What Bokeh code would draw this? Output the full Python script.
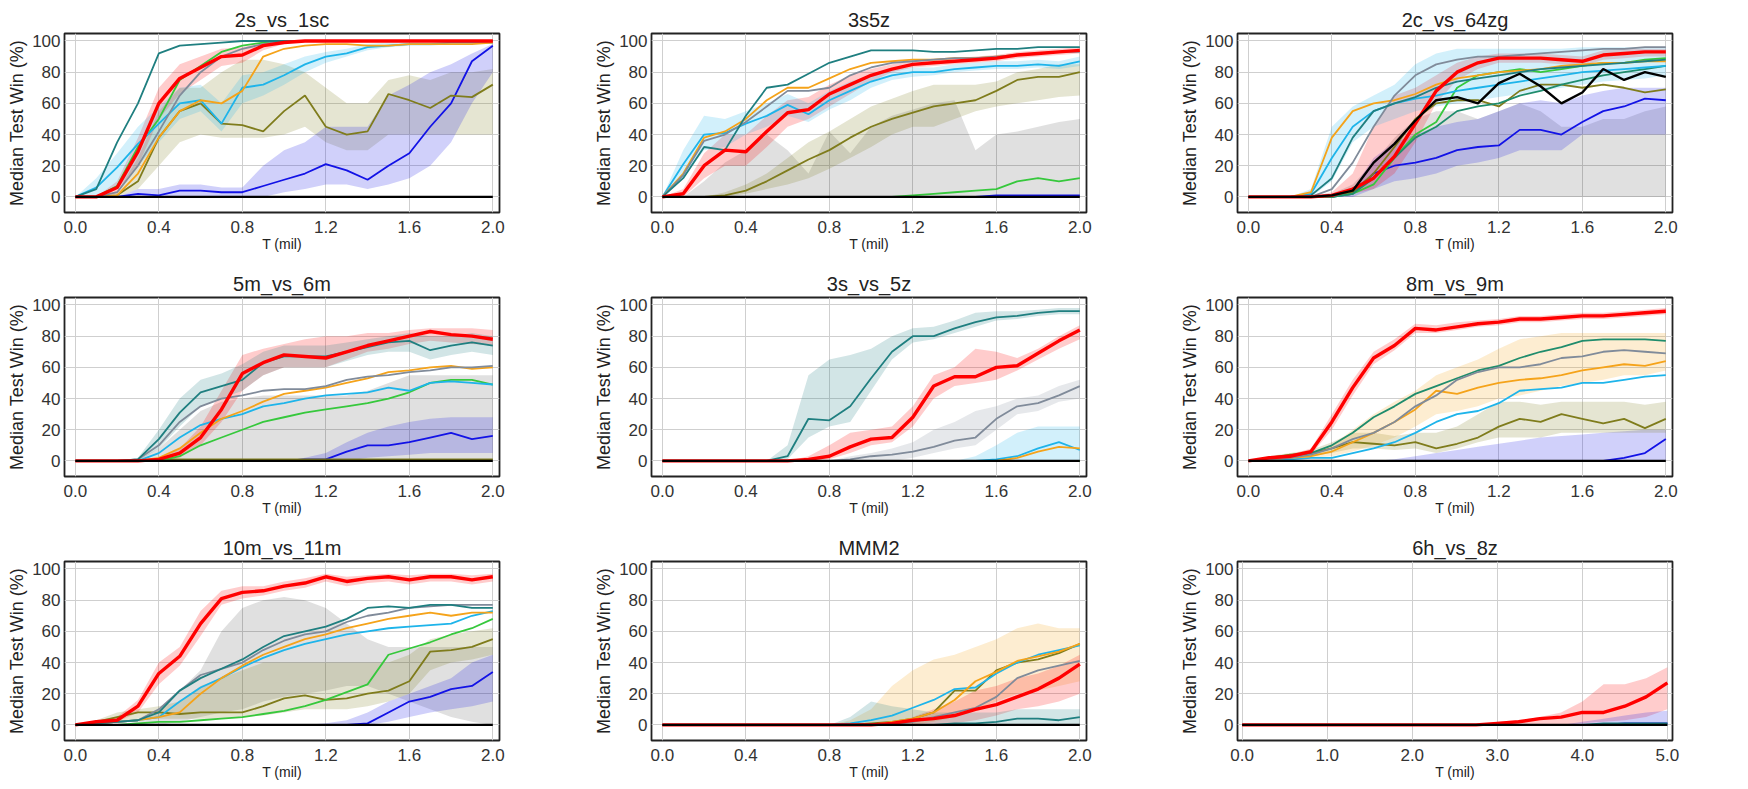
from bokeh.plotting import figure
from bokeh.layouts import column, row
from bokeh.models import FixedTicker, Range1d
from bokeh.embed import file_html
from bokeh.resources import INLINE

# ---------------- data ----------------
X2 = [0.0, 0.1, 0.2, 0.3, 0.4, 0.5, 0.6, 0.7, 0.8, 0.9, 1.0,
      1.1, 1.2, 1.3, 1.4, 1.5, 1.6, 1.7, 1.8, 1.9, 2.0]
X5 = [0.0, 0.25, 0.5, 0.75, 1.0, 1.25, 1.5, 1.75, 2.0, 2.25, 2.5,
      2.75, 3.0, 3.25, 3.5, 3.75, 4.0, 4.25, 4.5, 4.75, 5.0]
ZERO = [0, 0, 0, 0, 0, 0, 0, 0, 0, 0, 0, 0, 0, 0, 0, 0, 0, 0, 0, 0, 0]

X_TICKS2 = [0.0, 0.4, 0.8, 1.2, 1.6, 2.0]
X_LABELS2 = ["0.0", "0.4", "0.8", "1.2", "1.6", "2.0"]
X_TICKS5 = [0, 1, 2, 3, 4, 5]
X_LABELS5 = ["0.0", "1.0", "2.0", "3.0", "4.0", "5.0"]
Y_TICKS = [0, 20, 40, 60, 80, 100]
Y_LABELS = ["0", "20", "40", "60", "80", "100"]
TITLES = ["2s_vs_1sc", "3s5z", "2c_vs_64zg", "5m_vs_6m", "3s_vs_5z",
          "8m_vs_9m", "10m_vs_11m", "MMM2", "6h_vs_8z"]

# 2s_vs_1sc
P1_RED = [0, 0, 6, 29, 60, 76, 83, 90, 91, 97, 99, 100, 100, 100, 100, 100, 100, 100, 100, 100, 100]
P1_TEAL = [0, 5, 35, 60, 92, 97, 98, 99, 100, 100, 100, 100, 100, 100, 100, 100, 100, 100, 100, 100, 100]
P1_SKY = [0, 6, 19, 34, 47, 60, 62, 47, 70, 72, 78, 85, 90, 92, 96, 97, 98, 98, 99, 99, 99]
P1_GREEN = [0, 0, 7, 32, 50, 75, 84, 93, 97, 99, 100, 100, 100, 100, 100, 100, 100, 100, 100, 100, 100]
P1_GRAY = [0, 0, 3, 20, 42, 65, 80, 90, 95, 98, 100, 100, 100, 100, 100, 100, 100, 100, 100, 100, 100]
P1_ORANGE = [0, 0, 1, 15, 38, 55, 62, 60, 68, 90, 95, 97, 98, 98, 97, 97, 98, 98, 98, 98, 99]
P1_OLIVE = [0, 0, 1, 10, 38, 55, 60, 47, 46, 42, 55, 65, 45, 40, 42, 66, 62, 57, 65, 64, 72]
P1_BLUE = [0, 0, 0, 2, 1, 4, 4, 3, 3, 7, 11, 15, 21, 17, 11, 20, 28, 45, 60, 87, 97]
P1_OLIVE_LO = [0, 0, 0, 5, 20, 35, 40, 38, 38, 38, 40, 45, 35, 30, 30, 40, 40, 40, 40, 40, 40]
P1_OLIVE_HI = [0, 0, 3, 25, 55, 70, 70, 80, 88, 88, 85, 80, 70, 60, 60, 75, 78, 75, 80, 80, 82]
P1_BLUE_LO = [0, 0, 0, 0, 0, 0, 0, 0, 0, 0, 3, 5, 8, 8, 5, 8, 12, 20, 35, 60, 80]
P1_BLUE_HI = [0, 0, 0, 5, 5, 8, 8, 6, 6, 20, 30, 35, 45, 45, 45, 65, 72, 80, 85, 92, 98]
P1_RED_LO = [0, 0, 2, 20, 50, 66, 75, 84, 86, 94, 98, 100, 100, 100, 100, 100, 100, 100, 100, 100, 100]
P1_RED_HI = [0, 0, 10, 38, 70, 85, 90, 95, 96, 99, 100, 100, 100, 100, 100, 100, 100, 100, 100, 100, 100]
P1_SKY_LO = [0, 0, 5, 20, 35, 50, 55, 42, 60, 65, 72, 80, 86, 90, 94, 96, 97, 97, 98, 98, 98]
P1_SKY_HI = [0, 12, 28, 45, 58, 70, 72, 60, 78, 80, 85, 90, 93, 95, 98, 99, 99, 99, 100, 100, 100]

# 3s5z
P2_RED = [0, 2, 20, 30, 29, 42, 54, 56, 66, 72, 78, 82, 85, 86, 87, 88, 89, 91, 92, 93, 94]
P2_TEAL = [0, 12, 32, 30, 52, 70, 72, 79, 86, 90, 94, 94, 94, 93, 93, 94, 95, 95, 96, 96, 96]
P2_SKY = [0, 21, 40, 41, 47, 52, 59, 53, 62, 68, 74, 78, 80, 80, 82, 83, 84, 84, 85, 84, 87]
P2_ORANGE = [0, 15, 38, 42, 50, 62, 70, 70, 76, 82, 86, 87, 88, 88, 89, 89, 90, 91, 92, 93, 94]
P2_GRAY = [0, 14, 36, 40, 48, 58, 68, 68, 70, 78, 83, 86, 87, 88, 89, 89, 90, 91, 92, 93, 93]
P2_OLIVE = [0, 0, 0, 1, 4, 10, 17, 24, 30, 38, 45, 50, 54, 58, 60, 62, 68, 75, 77, 77, 80]
P2_GREEN = [0, 0, 0, 0, 0, 0, 0, 0, 0, 0, 0, 0, 1, 2, 3, 4, 5, 10, 12, 10, 12]
P2_BLUE = [0, 0, 0, 0, 0, 0, 0, 0, 0, 0, 0, 0, 0, 0, 0, 0, 1, 1, 1, 1, 1]
P2_BLACK_HI = [0, 0, 10, 22, 30, 40, 30, 15, 42, 28, 45, 52, 56, 60, 62, 30, 40, 42, 45, 48, 50]
P2_OLIVE_LO = [0, 0, 0, 0, 2, 5, 8, 12, 18, 25, 32, 40, 45, 45, 50, 55, 58, 60, 62, 64, 65]
P2_OLIVE_HI = [0, 0, 0, 3, 8, 15, 25, 35, 42, 50, 58, 63, 68, 72, 72, 72, 74, 80, 82, 85, 85]
P2_RED_LO = [0, 0, 12, 20, 20, 32, 45, 50, 58, 66, 74, 80, 83, 84, 85, 86, 87, 89, 90, 91, 92]
P2_RED_HI = [0, 5, 28, 40, 40, 52, 62, 64, 72, 78, 82, 85, 87, 88, 89, 90, 91, 93, 94, 95, 96]
P2_SKY_LO = [0, 12, 30, 32, 40, 45, 52, 48, 56, 62, 70, 75, 77, 78, 80, 81, 82, 82, 83, 82, 84]
P2_SKY_HI = [0, 30, 52, 50, 55, 60, 66, 60, 68, 74, 78, 82, 83, 83, 85, 86, 87, 87, 88, 87, 90]

# 2c_vs_64zg
P3_ORANGE = [0, 0, 0, 3, 38, 55, 60, 62, 66, 72, 76, 78, 80, 81, 82, 84, 85, 86, 86, 87, 87]
P3_SKY = [0, 0, 0, 2, 25, 45, 55, 60, 63, 65, 68, 70, 72, 74, 76, 78, 80, 81, 82, 83, 84]
P3_TEAL = [0, 0, 0, 1, 12, 38, 55, 60, 64, 70, 74, 76, 78, 80, 82, 83, 84, 85, 86, 87, 88]
P3_GRAY = [0, 0, 0, 0, 5, 22, 45, 65, 78, 85, 88, 90, 90, 91, 92, 93, 94, 95, 95, 96, 96]
P3_RED = [0, 0, 0, 0, 1, 5, 12, 26, 47, 68, 80, 86, 89, 89, 89, 88, 87, 91, 92, 93, 93]
P3_BLACK = [0, 0, 0, 0, 1, 4, 22, 34, 49, 62, 64, 60, 73, 79, 71, 60, 67, 82, 75, 80, 77]
P3_GREEN = [0, 0, 0, 0, 0, 2, 8, 25, 40, 48, 70, 78, 80, 82, 80, 82, 84, 86, 86, 88, 89]
P3_SEA = [0, 0, 0, 0, 0, 2, 12, 25, 38, 45, 55, 58, 60, 65, 68, 72, 75, 78, 80, 82, 84]
P3_OLIVE = [0, 0, 0, 0, 0, 3, 15, 32, 50, 60, 62, 62, 58, 68, 72, 72, 70, 72, 70, 67, 69]
P3_BLUE = [0, 0, 0, 0, 0, 2, 15, 20, 22, 25, 30, 32, 33, 43, 43, 40, 48, 55, 58, 63, 62]
P3_BLACK_HI = [0, 0, 0, 0, 2, 8, 22, 38, 50, 55, 55, 50, 55, 60, 55, 45, 45, 50, 50, 55, 58]
P3_BLUE_LO = [0, 0, 0, 0, 0, 0, 5, 10, 12, 15, 20, 22, 25, 30, 30, 30, 40, 40, 40, 40, 40]
P3_BLUE_HI = [0, 0, 0, 0, 0, 5, 25, 35, 40, 45, 48, 50, 55, 60, 62, 60, 65, 68, 70, 70, 70]
P3_RED_LO = [0, 0, 0, 0, 0, 2, 5, 15, 35, 60, 75, 82, 86, 86, 86, 85, 84, 88, 89, 90, 90]
P3_RED_HI = [0, 0, 0, 0, 3, 15, 45, 65, 70, 78, 86, 90, 92, 92, 92, 91, 90, 94, 95, 95, 95]
P3_SKY_LO = [0, 0, 0, 0, 10, 35, 45, 50, 55, 58, 60, 62, 64, 66, 68, 70, 72, 74, 75, 76, 78]
P3_SKY_HI = [0, 0, 0, 5, 45, 58, 65, 72, 85, 92, 95, 95, 95, 95, 95, 95, 96, 96, 96, 96, 96]

# 5m_vs_6m
P4_RED = [0, 0, 0, 0, 1, 5, 15, 33, 56, 63, 68, 67, 66, 70, 74, 77, 80, 83, 81, 80, 78]
P4_TEAL = [0, 0, 0, 1, 14, 31, 44, 48, 52, 63, 67, 67, 67, 70, 73, 76, 77, 71, 74, 76, 74]
P4_GRAY = [0, 0, 0, 1, 10, 25, 35, 40, 42, 45, 46, 46, 48, 52, 54, 55, 57, 58, 60, 60, 61]
P4_ORANGE = [0, 0, 0, 0, 2, 8, 18, 27, 32, 38, 43, 45, 47, 50, 53, 57, 58, 60, 61, 59, 60]
P4_SKY = [0, 0, 0, 0, 5, 15, 23, 27, 30, 35, 37, 40, 42, 43, 44, 47, 45, 50, 51, 50, 49]
P4_GREEN = [0, 0, 0, 0, 0, 3, 10, 15, 20, 25, 28, 31, 33, 35, 37, 40, 44, 50, 52, 52, 49]
P4_BLUE = [0, 0, 0, 0, 0, 0, 0, 0, 0, 0, 0, 1, 1, 6, 10, 10, 12, 15, 18, 14, 16]
P4_OLIVE = [0, 0, 0, 0, 1, 1, 1, 1, 1, 1, 1, 1, 1, 1, 1, 1, 1, 1, 1, 1, 1]
P4_BLACK_HI = [0, 0, 0, 1, 8, 20, 32, 38, 40, 42, 42, 42, 42, 42, 45, 50, 55, 55, 55, 55, 55]
P4_BLUE_LO = [0, 0, 0, 0, 0, 0, 0, 0, 0, 0, 0, 0, 0, 0, 2, 3, 4, 5, 5, 5, 5]
P4_BLUE_HI = [0, 0, 0, 0, 0, 0, 0, 0, 0, 0, 0, 2, 5, 12, 18, 22, 25, 27, 28, 28, 28]
P4_RED_LO = [0, 0, 0, 0, 0, 2, 10, 25, 45, 55, 60, 60, 60, 65, 70, 72, 75, 77, 76, 75, 74]
P4_RED_HI = [0, 0, 0, 0, 2, 8, 22, 45, 68, 72, 75, 78, 80, 80, 82, 82, 84, 85, 85, 85, 84]
P4_TEAL_LO = [0, 0, 0, 0, 8, 22, 35, 40, 45, 55, 60, 60, 60, 64, 68, 70, 70, 65, 68, 70, 68]
P4_TEAL_HI = [0, 0, 0, 2, 20, 40, 52, 56, 62, 70, 74, 74, 74, 76, 78, 80, 82, 80, 80, 82, 80]

# 3s_vs_5z
P5_TEAL = [0, 0, 0, 0, 0, 0, 3, 27, 26, 35, 53, 70, 80, 80, 85, 89, 92, 93, 95, 96, 96]
P5_RED = [0, 0, 0, 0, 0, 0, 0, 1, 3, 9, 14, 15, 28, 48, 54, 54, 60, 61, 69, 77, 84]
P5_GRAY = [0, 0, 0, 0, 0, 0, 0, 0, 0, 1, 3, 4, 6, 9, 13, 15, 27, 35, 37, 42, 48]
P5_SKY = [0, 0, 0, 0, 0, 0, 0, 0, 0, 0, 0, 0, 0, 0, 0, 0, 1, 3, 8, 12, 7]
P5_ORANGE = [0, 0, 0, 0, 0, 0, 0, 0, 0, 0, 0, 0, 0, 0, 0, 0, 0, 2, 6, 9, 8]
P5_TEAL_LO = [0, 0, 0, 0, 0, 0, 1, 15, 22, 25, 45, 65, 76, 78, 82, 86, 90, 91, 93, 94, 94]
P5_TEAL_HI = [0, 0, 0, 0, 0, 0, 10, 55, 65, 68, 72, 80, 85, 86, 90, 95, 96, 96, 97, 98, 98]
P5_RED_LO = [0, 0, 0, 0, 0, 0, 0, 0, 1, 5, 10, 12, 22, 40, 48, 50, 52, 58, 65, 72, 78]
P5_RED_HI = [0, 0, 0, 0, 0, 0, 0, 3, 10, 18, 20, 22, 35, 55, 60, 72, 70, 66, 72, 80, 87]
P5_GRAY_LO = [0, 0, 0, 0, 0, 0, 0, 0, 0, 0, 0, 0, 2, 5, 8, 10, 20, 30, 32, 38, 40]
P5_GRAY_HI = [0, 0, 0, 0, 0, 0, 0, 0, 0, 3, 5, 8, 12, 20, 25, 32, 35, 40, 42, 48, 52]
P5_BLUE_HI = [0, 0, 0, 0, 0, 0, 0, 0, 0, 0, 0, 0, 0, 0, 0, 3, 10, 18, 22, 22, 22]

# 8m_vs_9m
P6_RED = [0, 2, 3, 6, 25, 47, 66, 74, 85, 84, 86, 88, 89, 91, 91, 92, 93, 93, 94, 95, 96]
P6_SEA = [0, 1, 2, 5, 10, 18, 28, 35, 43, 48, 53, 58, 61, 66, 70, 73, 77, 78, 78, 78, 77]
P6_GRAY = [0, 1, 2, 4, 8, 14, 18, 25, 35, 42, 52, 57, 60, 60, 62, 66, 67, 70, 71, 70, 69]
P6_ORANGE = [0, 1, 2, 3, 6, 12, 18, 25, 33, 45, 43, 47, 50, 52, 53, 55, 58, 60, 62, 61, 64]
P6_SKY = [0, 0, 1, 2, 2, 5, 8, 12, 18, 25, 30, 32, 37, 45, 46, 47, 50, 50, 52, 54, 55]
P6_OLIVE = [0, 2, 4, 5, 8, 12, 11, 10, 12, 8, 11, 15, 22, 27, 25, 30, 27, 24, 27, 21, 27]
P6_BLUE = [0, 0, 0, 0, 0, 0, 0, 0, 0, 0, 0, 0, 0, 0, 0, 0, 0, 0, 2, 5, 14]
P6_BLUE_HI = [0, 0, 0, 0, 0, 0, 0, 1, 3, 5, 7, 9, 11, 13, 15, 16, 17, 18, 19, 20, 20]
P6_OLIVE_LO = [0, 0, 2, 3, 5, 8, 8, 7, 8, 5, 8, 12, 15, 15, 15, 18, 18, 18, 18, 18, 18]
P6_OLIVE_HI = [0, 3, 5, 7, 12, 18, 18, 16, 18, 18, 22, 30, 38, 38, 36, 38, 38, 38, 38, 36, 38]
P6_ORANGE_LO = [0, 0, 1, 2, 3, 6, 10, 15, 22, 30, 32, 35, 40, 42, 45, 48, 50, 52, 55, 55, 58]
P6_ORANGE_HI = [0, 2, 3, 5, 10, 20, 30, 38, 45, 55, 60, 65, 72, 78, 80, 82, 82, 82, 82, 82, 82]
P6_RED_LO = [0, 1, 2, 4, 20, 42, 62, 71, 82, 82, 84, 86, 87, 89, 89, 90, 91, 91, 92, 93, 94]
P6_RED_HI = [0, 3, 4, 8, 30, 52, 70, 78, 88, 87, 89, 90, 91, 93, 93, 94, 95, 95, 96, 97, 98]

# 10m_vs_11m
P7_RED = [0, 2, 3, 12, 33, 44, 65, 81, 85, 86, 89, 91, 95, 92, 94, 95, 93, 95, 95, 93, 95]
P7_TEAL = [0, 1, 2, 3, 8, 22, 30, 36, 42, 50, 57, 60, 63, 68, 75, 76, 75, 77, 77, 75, 75]
P7_GRAY = [0, 1, 2, 3, 10, 22, 32, 36, 40, 48, 54, 58, 60, 66, 70, 72, 75, 76, 77, 77, 77]
P7_SKY = [0, 1, 2, 3, 5, 15, 24, 30, 37, 43, 48, 52, 55, 58, 60, 62, 63, 64, 65, 70, 73]
P7_ORANGE = [0, 1, 2, 3, 5, 8, 20, 30, 38, 45, 50, 55, 58, 62, 65, 68, 70, 72, 70, 72, 72]
P7_GREEN = [0, 0, 0, 1, 2, 2, 3, 4, 5, 7, 9, 12, 16, 21, 26, 45, 49, 53, 58, 62, 68]
P7_OLIVE = [0, 2, 5, 8, 8, 7, 8, 8, 8, 12, 17, 19, 16, 17, 20, 22, 28, 47, 48, 50, 55]
P7_BLUE = [0, 0, 0, 0, 0, 0, 0, 0, 0, 0, 0, 0, 0, 0, 1, 8, 15, 18, 23, 25, 34]
P7_BLACK_LO = [0, 0, 0, 0, 0, 2, 5, 8, 10, 15, 18, 20, 22, 25, 25, 20, 15, 10, 5, 2, 0]
P7_BLACK_HI = [0, 0, 0, 2, 10, 22, 35, 60, 75, 80, 82, 80, 75, 65, 55, 50, 50, 50, 50, 50, 50]
P7_OLIVE_LO = [0, 0, 2, 4, 4, 4, 4, 4, 5, 6, 8, 10, 10, 10, 12, 15, 20, 35, 40, 42, 45]
P7_OLIVE_HI = [0, 3, 8, 10, 12, 15, 25, 30, 35, 40, 40, 40, 40, 40, 40, 40, 45, 55, 58, 60, 62]
P7_BLUE_LO = [0, 0, 0, 0, 0, 0, 0, 0, 0, 0, 0, 0, 0, 0, 0, 2, 5, 8, 10, 12, 15]
P7_BLUE_HI = [0, 0, 0, 0, 0, 0, 0, 0, 0, 0, 0, 0, 1, 3, 8, 15, 20, 25, 30, 40, 45]
P7_RED_LO = [0, 1, 2, 8, 26, 38, 57, 77, 81, 83, 86, 88, 92, 89, 91, 92, 90, 92, 92, 90, 92]
P7_RED_HI = [0, 3, 5, 16, 40, 50, 73, 86, 89, 89, 92, 94, 97, 95, 96, 97, 96, 97, 97, 96, 97]

# MMM2
P8_SKY = [0, 0, 0, 0, 0, 0, 0, 0, 0, 1, 3, 6, 11, 16, 23, 24, 33, 40, 45, 48, 51]
P8_OLIVE = [0, 0, 0, 0, 0, 0, 0, 0, 0, 0, 1, 2, 4, 8, 22, 22, 35, 40, 42, 46, 52]
P8_ORANGE = [0, 0, 0, 0, 0, 0, 0, 0, 0, 0, 0, 2, 4, 8, 16, 28, 34, 41, 44, 47, 52]
P8_GRAY = [0, 0, 0, 0, 0, 0, 0, 0, 0, 0, 0, 0, 2, 5, 8, 11, 18, 30, 35, 38, 41]
P8_RED = [0, 0, 0, 0, 0, 0, 0, 0, 0, 0, 0, 1, 3, 4, 6, 10, 13, 18, 23, 30, 39]
P8_TEAL = [0, 0, 0, 0, 0, 0, 0, 0, 0, 0, 0, 0, 0, 0, 1, 1, 2, 4, 4, 3, 5]
P8_ORANGE_LO = [0, 0, 0, 0, 0, 0, 0, 0, 0, 0, 0, 0, 0, 2, 5, 10, 15, 20, 22, 25, 28]
P8_ORANGE_HI = [0, 0, 0, 0, 0, 0, 0, 0, 0, 3, 10, 25, 35, 42, 45, 50, 55, 62, 65, 62, 62]
P8_RED_LO = [0, 0, 0, 0, 0, 0, 0, 0, 0, 0, 0, 0, 0, 0, 1, 3, 6, 10, 12, 15, 20]
P8_RED_HI = [0, 0, 0, 0, 0, 0, 0, 0, 0, 0, 0, 0, 5, 10, 15, 22, 25, 30, 33, 38, 45]
P8_TEAL_HI = [0, 0, 0, 0, 0, 0, 0, 0, 0, 5, 15, 12, 10, 8, 8, 8, 8, 10, 10, 10, 10]

# 6h_vs_8z
P9_RED = [0, 0, 0, 0, 0, 0, 0, 0, 0, 0, 0, 0, 1, 2, 4, 5, 8, 8, 12, 18, 27]
P9_BLUE = [0, 0, 0, 0, 0, 0, 0, 0, 0, 0, 0, 0, 0, 0, 0, 0, 0, 0, 1, 1, 1]
P9_TEAL = [0, 0, 0, 0, 0, 0, 0, 0, 0, 0, 0, 0, 0, 0, 0, 0, 0, 1, 1, 1, 1]
P9_RED_LO = [0, 0, 0, 0, 0, 0, 0, 0, 0, 0, 0, 0, 0, 0, 0, 0, 1, 2, 3, 5, 10]
P9_RED_HI = [0, 0, 0, 0, 0, 0, 0, 0, 0, 0, 0, 0, 2, 3, 5, 8, 15, 26, 26, 30, 37]
P9_BLUE_HI = [0, 0, 0, 0, 0, 0, 0, 0, 0, 0, 0, 0, 0, 0, 0, 0, 2, 4, 6, 8, 9]

# ---------------- styles ----------------
STYLE = {
    "blue": ("#1212e6", 1.8),
    "olive": ("#7f7c1c", 1.8),
    "green": ("#36c83c", 1.8),
    "sea": ("#1f8c6c", 1.8),
    "sky": ("#1eb4ea", 1.8),
    "orange": ("#f5a31a", 1.8),
    "gray": ("#808b9a", 1.8),
    "teal": ("#1f7f80", 1.8),
    "red": ("#ff0000", 3.4),
    "black": ("#000000", 2.4),
}
ORDER = ["blue", "olive", "green", "sea", "sky", "orange", "gray", "teal", "red", "black"]

PANELS = [
    dict(x=X2, ticks=X_TICKS2, labels=X_LABELS2, xr=(-0.052, 2.032),
         lines=dict(red=P1_RED, teal=P1_TEAL, sky=P1_SKY, green=P1_GREEN, gray=P1_GRAY,
                    orange=P1_ORANGE, olive=P1_OLIVE, blue=P1_BLUE, black=ZERO),
         bands=[("olive", P1_OLIVE_LO, P1_OLIVE_HI), ("blue", P1_BLUE_LO, P1_BLUE_HI),
                ("red", P1_RED_LO, P1_RED_HI), ("sky", P1_SKY_LO, P1_SKY_HI)]),
    dict(x=X2, ticks=X_TICKS2, labels=X_LABELS2, xr=(-0.052, 2.032),
         lines=dict(red=P2_RED, teal=P2_TEAL, sky=P2_SKY, orange=P2_ORANGE, gray=P2_GRAY,
                    olive=P2_OLIVE, green=P2_GREEN, blue=P2_BLUE, black=ZERO),
         bands=[("black", ZERO, P2_BLACK_HI), ("olive", P2_OLIVE_LO, P2_OLIVE_HI),
                ("red", P2_RED_LO, P2_RED_HI), ("sky", P2_SKY_LO, P2_SKY_HI)]),
    dict(x=X2, ticks=X_TICKS2, labels=X_LABELS2, xr=(-0.052, 2.032),
         lines=dict(orange=P3_ORANGE, sky=P3_SKY, teal=P3_TEAL, gray=P3_GRAY, red=P3_RED,
                    black=P3_BLACK, green=P3_GREEN, sea=P3_SEA, olive=P3_OLIVE, blue=P3_BLUE),
         bands=[("black", ZERO, P3_BLACK_HI), ("blue", P3_BLUE_LO, P3_BLUE_HI),
                ("red", P3_RED_LO, P3_RED_HI), ("sky", P3_SKY_LO, P3_SKY_HI)]),
    dict(x=X2, ticks=X_TICKS2, labels=X_LABELS2, xr=(-0.052, 2.032),
         lines=dict(red=P4_RED, teal=P4_TEAL, gray=P4_GRAY, orange=P4_ORANGE, sky=P4_SKY,
                    green=P4_GREEN, blue=P4_BLUE, olive=P4_OLIVE, black=ZERO),
         bands=[("black", ZERO, P4_BLACK_HI), ("blue", P4_BLUE_LO, P4_BLUE_HI),
                ("red", P4_RED_LO, P4_RED_HI), ("teal", P4_TEAL_LO, P4_TEAL_HI)]),
    dict(x=X2, ticks=X_TICKS2, labels=X_LABELS2, xr=(-0.052, 2.032),
         lines=dict(teal=P5_TEAL, red=P5_RED, gray=P5_GRAY, sky=P5_SKY, orange=P5_ORANGE,
                    green=ZERO, olive=ZERO, blue=ZERO, black=ZERO),
         bands=[("teal", P5_TEAL_LO, P5_TEAL_HI), ("red", P5_RED_LO, P5_RED_HI),
                ("gray", P5_GRAY_LO, P5_GRAY_HI), ("sky", ZERO, P5_BLUE_HI)]),
    dict(x=X2, ticks=X_TICKS2, labels=X_LABELS2, xr=(-0.052, 2.032),
         lines=dict(red=P6_RED, sea=P6_SEA, gray=P6_GRAY, orange=P6_ORANGE, sky=P6_SKY,
                    olive=P6_OLIVE, blue=P6_BLUE, black=ZERO),
         bands=[("blue", ZERO, P6_BLUE_HI), ("olive", P6_OLIVE_LO, P6_OLIVE_HI),
                ("orange", P6_ORANGE_LO, P6_ORANGE_HI), ("red", P6_RED_LO, P6_RED_HI)]),
    dict(x=X2, ticks=X_TICKS2, labels=X_LABELS2, xr=(-0.052, 2.032),
         lines=dict(red=P7_RED, teal=P7_TEAL, gray=P7_GRAY, sky=P7_SKY, orange=P7_ORANGE,
                    green=P7_GREEN, olive=P7_OLIVE, blue=P7_BLUE, black=ZERO),
         bands=[("black", P7_BLACK_LO, P7_BLACK_HI), ("olive", P7_OLIVE_LO, P7_OLIVE_HI),
                ("blue", P7_BLUE_LO, P7_BLUE_HI), ("red", P7_RED_LO, P7_RED_HI)]),
    dict(x=X2, ticks=X_TICKS2, labels=X_LABELS2, xr=(-0.052, 2.032),
         lines=dict(sky=P8_SKY, olive=P8_OLIVE, orange=P8_ORANGE, gray=P8_GRAY, red=P8_RED,
                    teal=P8_TEAL, black=ZERO),
         bands=[("orange", P8_ORANGE_LO, P8_ORANGE_HI), ("red", P8_RED_LO, P8_RED_HI),
                ("teal", ZERO, P8_TEAL_HI)]),
    dict(x=X5, ticks=X_TICKS5, labels=X_LABELS5, xr=(-0.055, 5.06),
         lines=dict(black=ZERO, blue=P9_BLUE, teal=P9_TEAL, gray=ZERO, red=P9_RED),
         bands=[("red", P9_RED_LO, P9_RED_HI), ("blue", ZERO, P9_BLUE_HI)]),
]

WIDTHS = [587, 586, 574]
RIGHTS = [88, 87, 75]
HEIGHTS = [264, 264, 260]
BOTTOMS = [52, 52, 48]
FONT = "Liberation Sans"


def make_panel(i, spec):
    r, c = divmod(i, 3)
    p = figure(width=WIDTHS[c], height=HEIGHTS[r],
               x_range=Range1d(*spec["xr"]), y_range=Range1d(-10, 104.8),
               output_backend="svg", toolbar_location=None,
               min_border_left=64, min_border_right=RIGHTS[c],
               min_border_top=33, min_border_bottom=BOTTOMS[r])
    p.title.text = TITLES[i]
    p.title.align = "center"
    p.title.text_font = FONT
    p.title.text_font_size = "20px"
    p.title.text_font_style = "normal"
    p.title.text_color = "#222222"
    p.title.standoff = 5
    p.background_fill_color = "white"
    p.border_fill_color = "white"
    p.outline_line_color = "#222222"
    p.outline_line_width = 1.8

    p.xaxis.ticker = FixedTicker(ticks=spec["ticks"])
    p.xaxis.major_label_overrides = dict(zip(spec["ticks"], spec["labels"]))
    p.yaxis.ticker = FixedTicker(ticks=Y_TICKS)
    p.yaxis.major_label_overrides = dict(zip(Y_TICKS, Y_LABELS))
    p.xaxis.axis_label = "T (mil)"
    p.yaxis.axis_label = "Median Test Win (%)"
    for ax in (p.xaxis[0], p.yaxis[0]):
        ax.axis_line_color = None
        ax.major_tick_line_color = None
        ax.minor_tick_line_color = None
        ax.major_tick_out = 0
        ax.major_tick_in = 0
        ax.minor_tick_out = 0
        ax.major_label_text_font = FONT
        ax.major_label_text_color = "#333333"
        ax.axis_label_text_font = FONT
        ax.axis_label_text_font_style = "normal"
        ax.axis_label_text_color = "#222222"
    p.xaxis.major_label_text_font_size = "17px"
    p.yaxis.major_label_text_font_size = "17px"
    p.xaxis.axis_label_text_font_size = "14px"
    p.yaxis.axis_label_text_font_size = "18px"
    p.xaxis.major_label_standoff = 8
    p.xaxis.axis_label_standoff = 0
    p.yaxis.major_label_standoff = 4
    p.yaxis.axis_label_standoff = 2
    p.grid.grid_line_color = "#cfcfcf"
    p.grid.grid_line_width = 1

    x = spec["x"]
    for name, lo, hi in spec["bands"]:
        col = STYLE[name][0]
        p.varea(x=x, y1=lo, y2=hi, fill_color=col,
                fill_alpha=0.12 if name == "black" else 0.2)
    for name in ORDER:
        if name in spec["lines"]:
            col, w = STYLE[name]
            p.line(x, spec["lines"][name], line_color=col, line_width=w)
    return p


figs = [make_panel(i, s) for i, s in enumerate(PANELS)]
layout = column(row(*figs[0:3]), row(*figs[3:6]), row(*figs[6:9]))

open("out.html", "w").write(file_html(layout, INLINE, title="SMAC win rates"))
